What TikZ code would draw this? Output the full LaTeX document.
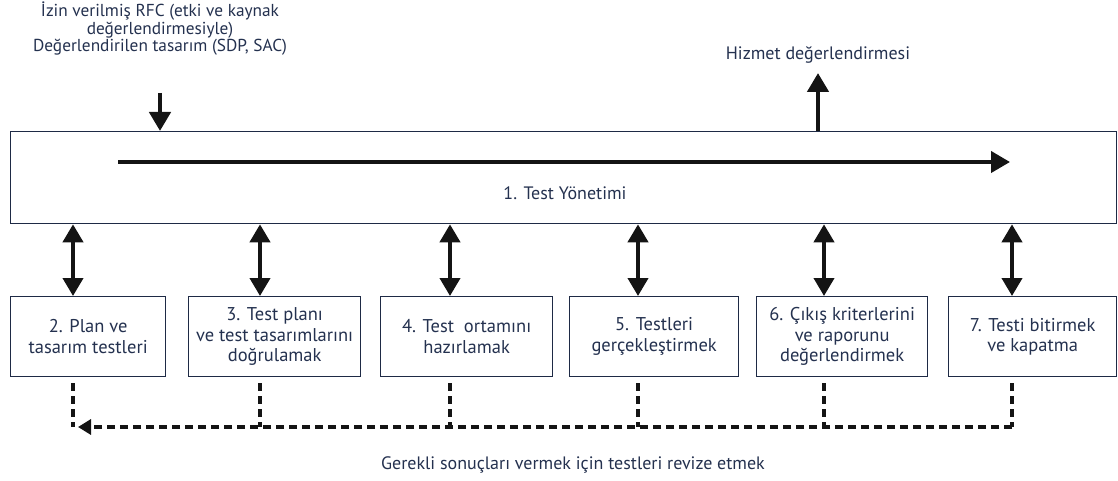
\documentclass[tikz,border=0pt]{standalone}
\usepackage{fontspec}
\setmainfont{PT Sans}
\usetikzlibrary{arrows.meta,calc}
\definecolor{ink}{HTML}{24314F}
\definecolor{frame}{HTML}{1E2A45}
\definecolor{arrowink}{HTML}{141414}
\begin{document}
\begin{tikzpicture}[x=1pt,y=-1pt,
  every node/.style={font=\fontsize{18}{20}\selectfont, text=ink},
  frameline/.style={draw=frame, line width=1.3pt},
  stepbox/.style={frameline, minimum height=80pt, align=center, inner sep=0pt, anchor=north west,
    font=\fontsize{18.5}{20.5}\selectfont},
  mgmtbox/.style={frameline, minimum width=1106pt, minimum height=92pt, inner sep=0pt, anchor=north west},
  bigtip/.style={-{Triangle[width=21pt,length=19pt]}, line width=4.5pt, draw=arrowink},
  dbltip/.style={{Triangle[width=20pt,length=18pt]}-{Triangle[width=20pt,length=18pt]}, line width=4pt, draw=arrowink},
  dashlink/.style={line width=4.5pt, draw=arrowink, dash pattern=on 8pt off 5pt},
  dashtip/.style={dashlink, -{Triangle[width=15pt,length=13pt]}},
]
\useasboundingbox (0,0) rectangle (1118,481);

% management frame
\node[mgmtbox] (mgmt) at (10,131) {};
\node (mgmtlabel) at (565,193) {1. Test Yönetimi};
\coordinate (flowstart) at (118,162);
\coordinate (flowend) at (1010,162);
\draw[bigtip, line width=4pt] (flowstart) -- (flowend);

% input and output
\node[align=center, font=\fontsize{17.3}{17.5}\selectfont] (input) at (160,29)
  {İzin verilmiş RFC (etki ve kaynak\\değerlendirmesiyle)\\Değerlendirilen tasarım (SDP, SAC)};
\coordinate (intop) at (160,93);
\draw[bigtip] (intop) -- (intop |- mgmt.north);
\node (output) at (818,55) {Hizmet değerlendirmesi};
\coordinate (outtop) at (818,73);
\draw[bigtip] (outtop |- mgmt.north) -- (outtop);

% process steps
\node[stepbox, minimum width=155pt] (b2) at (10,296) {2. Plan ve\\tasarım testleri};
\node[stepbox, minimum width=172pt] (b3) at (188,296) {3. Test planı\\ve test tasarımlarını\\doğrulamak};
\node[stepbox, minimum width=172pt] (b4) at (380,296) {4. Test\ \ ortamını\\hazırlamak};
\node[stepbox, minimum width=169pt] (b5) at (569,296) {5. Testleri\\gerçekleştirmek};
\node[stepbox, minimum width=171pt] (b6) at (756,296) {6. Çıkış kriterlerini\\ve raporunu\\değerlendirmek};
\node[stepbox, minimum width=168pt] (b7) at (948,296) {7. Testi bitirmek\\ve kapatma};

% links between the frame and the steps
\coordinate (a2) at (73,0);
\coordinate (a3) at (260,0);
\coordinate (a4) at (450,0);
\coordinate (a5) at (638,0);
\coordinate (a6) at (824,0);
\coordinate (a7) at (1012,0);
\foreach \i in {2,...,7} {
  \draw[dbltip] (a\i |- mgmt.south) -- (a\i |- b\i.north);
}

% revision feedback
\coordinate (rev) at (0,427);
\foreach \i in {2,...,7} {
  \draw[dashlink, shorten <=6pt] (a\i |- b\i.south) -- (a\i |- rev);
}
\coordinate (revstart) at (a7 |- rev);
\coordinate (revend) at ($(a2 |- rev)+(5,0)$);
\draw[dashtip] (revstart) -- (revend);
\node (revlabel) at (573,465) {Gerekli sonuçları vermek için testleri revize etmek};
\end{tikzpicture}
\end{document}
